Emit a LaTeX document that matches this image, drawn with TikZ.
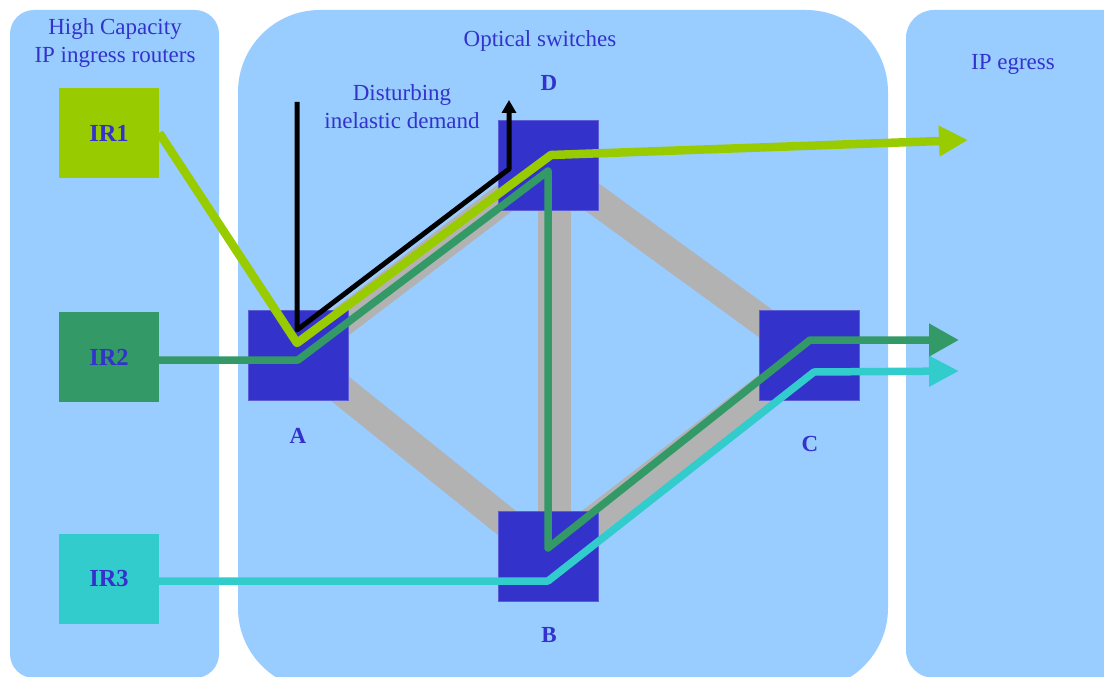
\documentclass[tikz,border=0pt]{standalone}
\usepackage{fontspec}
\setmainfont{Liberation Serif}
\usetikzlibrary{arrows.meta}
\definecolor{panel}{HTML}{99CCFF}
\definecolor{swblue}{HTML}{3333CC}
\definecolor{txtblue}{HTML}{3333CC}
\definecolor{irlime}{HTML}{99CC00}
\definecolor{irgreen}{HTML}{339966}
\definecolor{ircyan}{HTML}{33CCCC}
\definecolor{linkgray}{HTML}{B2B2B2}
\tikzset{
  panelbox/.style={fill=panel},
  irbox/.style={minimum width=100pt, minimum height=90pt, inner sep=0pt, text=txtblue, font=\fontsize{24.5}{28}\selectfont\bfseries},
  swbox/.style={fill=swblue, draw=swblue!80!white, line width=0.8pt, minimum width=100pt, minimum height=90pt, inner sep=0pt},
  swlabel/.style={text=txtblue, font=\fontsize{23}{26}\selectfont\bfseries},
  paneltext/.style={text=txtblue, align=center, font=\fontsize{23}{28}\selectfont},
  glink/.style={linkgray, line width=30pt},
  flow/.style={line width=#1, line join=round},
}
\begin{document}
\begin{tikzpicture}[x=1pt,y=-1pt]
\useasboundingbox (0,0) rectangle (1104,677);
\clip (0,0) rectangle (1104,677);
\fill[white] (0,0) rectangle (1104,677);
% panels
\fill[panelbox, rounded corners=24pt] (10,10) rectangle (219,678);
\fill[panelbox, rounded corners=82pt] (238,10) rectangle (888,690);
\fill[panelbox, rounded corners=28pt] (906,10) rectangle (1150,678);
% panel titles
\node[paneltext] (t1) at (115,43) {High Capacity\\IP ingress routers};
\node[paneltext] (t2) at (540,41) {Optical switches};
\node[paneltext] (t3) at (1013,64) {IP egress};
\node[paneltext] (t4) at (402,107) {Disturbing\\inelastic demand};
% switch centres
\coordinate (cA) at (298,355);
\coordinate (cD) at (548,165);
\coordinate (cB) at (548,556);
\coordinate (cC) at (809,355);
\coordinate (vD) at (554,200);
\coordinate (vB) at (554,520);
% gray links
\draw[glink] (cA) -- (cD);
\draw[glink] (cA) -- (cB);
\draw[glink] (cB) -- (cC);
\draw[glink] (cD) -- (cC);
\draw[linkgray, line width=33pt] (vD) -- (vB);
% switches
\node[swbox] (A) at (cA) {};
\node[swbox] (D) at (cD) {};
\node[swbox] (B) at (cB) {};
\node[swbox] (C) at (cC) {};
\node[swlabel] (LA) at (298,436) {A};
\node[swlabel] (LD) at (549,83) {D};
\node[swlabel] (LB) at (549,635) {B};
\node[swlabel] (LC) at (810,444) {C};
% ingress routers
\node[irbox, fill=irlime] (IR1) at (109,133) {IR1};
\node[irbox, fill=irgreen] (IR2) at (109,357) {IR2};
\node[irbox, fill=ircyan] (IR3) at (109,579) {IR3};
% path coordinates
\coordinate (k0) at (297,102);
\coordinate (k1) at (297,330);
\coordinate (k2) at (509,169);
\coordinate (k3) at (509,100);
\coordinate (a1) at (297,343);
\coordinate (d1) at (551,155);
\coordinate (e1) at (968,140);
\coordinate (a2) at (298,360);
\coordinate (d2) at (548,171);
\coordinate (b2) at (548,548);
\coordinate (c2) at (810,340);
\coordinate (e2) at (959,340);
\coordinate (b3) at (548,581);
\coordinate (c3) at (814,372);
\coordinate (e3) at (959,371);
% black disturbing demand
\draw[flow=5pt, black, -{Triangle[length=13pt,width=14pt]}] (k0) -- (k1) -- (k2) -- (k3);
% IR3 flow
\draw[flow=7.5pt, ircyan, -{Triangle[length=30pt,width=29pt]}] (IR3.east |- b3) -- (b3) -- (c3) -- (e3);
% IR2 flow
\draw[flow=7.5pt, irgreen, -{Triangle[length=30pt,width=31pt]}] (IR2.east |- a2) -- (a2) -- (d2) -- (b2) -- (c2) -- (e2);
% IR1 flow
\draw[flow=8.5pt, irlime, -{Triangle[length=29pt,width=29pt]}] (IR1.east) -- (a1) -- (d1) -- (e1);
\end{tikzpicture}
\end{document}
